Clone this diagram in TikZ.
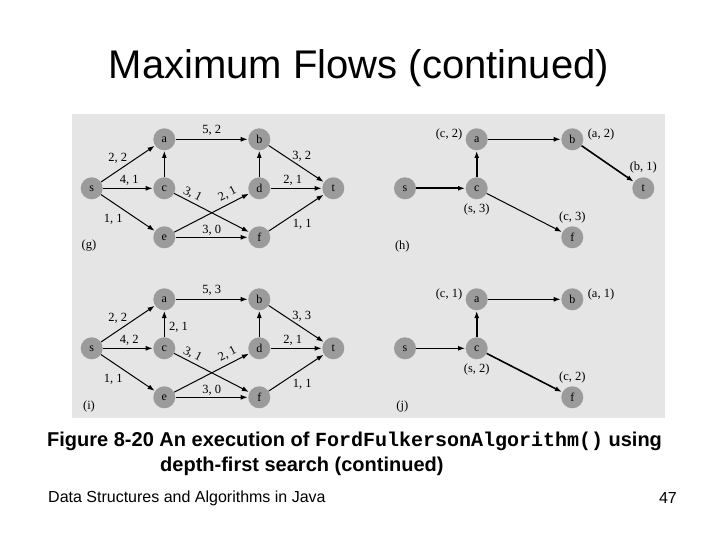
\documentclass[tikz,border=0pt]{standalone}
\usepackage{fontspec}
\setmainfont{Liberation Sans}
\newfontfamily\gfont{Liberation Serif}
\newfontfamily\cfont{Liberation Mono}
\usetikzlibrary{arrows.meta}
\definecolor{panelbg}{RGB}{229,229,229}
\definecolor{nodegray}{RGB}{155,155,155}
\tikzset{
  vtx/.style={circle,fill=nodegray,minimum size=22pt,inner sep=0pt,font=\gfont\fontsize{12}{12}\selectfont},
  flow/.style={-{Latex[length=7pt,width=5pt]},line width=1pt,shorten >=0.5pt},
  heavy/.style={flow,line width=1.6pt},
  lbl/.style={font=\gfont\fontsize{12.5}{13}\selectfont,inner sep=0pt},
}
\begin{document}
\begin{tikzpicture}[x=1pt,y=-1pt]
\useasboundingbox (0,0) rectangle (720,540);
\fill[white] (0,0) rectangle (720,540);
\fill[panelbg] (72,114) rectangle (665,418);

% Title
\node[font=\fontsize{40}{46}\selectfont] (title) at (359,68) {Maximum Flows (continued)};

% Panel g and i (full networks)
\foreach \dy/\tagname/\ab/\sa/\sc/\bt in {0/g/{5, 2}/{2, 2}/{4, 1}/{3, 2},160/i/{5, 3}/{2, 2}/{4, 2}/{3, 3}}{
\begin{scope}[shift={(0,\dy)}]
  \node[vtx] (s\tagname) at (91.7,188.3) {s};
  \node[vtx] (a\tagname) at (164.3,139.3) {a};
  \node[vtx] (b\tagname) at (259.3,139.3) {b};
  \node[vtx] (c\tagname) at (164.3,188.3) {c};
  \node[vtx] (d\tagname) at (259.3,188.3) {d};
  \node[vtx] (t\tagname) at (333.3,188.3) {t};
  \node[vtx] (e\tagname) at (164.3,237.3) {e};
  \node[vtx] (f\tagname) at (259.3,237.3) {f};
  \draw[flow] (s\tagname) -- (a\tagname);
  \draw[flow] (s\tagname) -- (c\tagname);
  \draw[flow] (s\tagname) -- (e\tagname);
  \draw[flow] (c\tagname) -- (a\tagname);
  \draw[flow] (a\tagname) -- (b\tagname);
  \draw[flow] (c\tagname) -- (f\tagname);
  \draw[flow] (e\tagname) -- (d\tagname);
  \draw[flow] (e\tagname) -- (f\tagname);
  \draw[flow] (d\tagname) -- (b\tagname);
  \draw[flow] (d\tagname) -- (t\tagname);
  \draw[flow] (b\tagname) -- (t\tagname);
  \draw[flow] (f\tagname) -- (t\tagname);
  \node[lbl] (lab\tagname) at (211.7,130.7) {\ab};
  \node[lbl] (lsa\tagname) at (117.7,158.3) {\sa};
  \node[lbl] (lsc\tagname) at (129.3,180) {\sc};
  \node[lbl] (lse\tagname) at (113.3,219.3) {1, 1};
  \node[lbl] (lbt\tagname) at (301.7,156.7) {\bt};
  \node[lbl] (ldt\tagname) at (292.7,180) {2, 1};
  \node[lbl] (lft\tagname) at (302.3,224) {1, 1};
  \node[lbl] (lef\tagname) at (211.7,230.7) {3, 0};
  \node[lbl,rotate=-27] (lcf\tagname) at (192.5,194.5) {3, 1};
  \node[lbl,rotate=27] (led\tagname) at (227.5,194.5) {2, 1};
  \node[lbl] (tag\tagname) at (89,246) {(\tagname)};
\end{scope}
}
\node[lbl] (lcai) at (178.5,327.7) {2, 1};

% Panel h
\node[vtx] (sh) at (405,188.3) {s};
\node[vtx] (ah) at (476.7,139.3) {a};
\node[vtx] (bh) at (572.3,139.3) {b};
\node[vtx] (ch) at (476.7,188.3) {c};
\node[vtx] (th) at (643.3,188.3) {t};
\node[vtx] (fh) at (572.3,237.3) {f};
\draw[heavy] (sh) -- (ch);
\draw[heavy] (ch) -- (ah);
\draw[flow] (ah) -- (bh);
\draw[heavy] (bh) -- (th);
\draw[flow] (ch) -- (fh);
\node[lbl] (lah) at (449,134.3) {(c, 2)};
\node[lbl] (lbh) at (601,134.3) {(a, 2)};
\node[lbl] (lth) at (643.3,167.3) {(b, 1)};
\node[lbl] (lch) at (476.7,209.3) {(s, 3)};
\node[lbl] (lfh) at (572.3,217.3) {(c, 3)};
\node[lbl] (tagh) at (402.3,246) {(h)};

% Panel j
\node[vtx] (sj) at (405,348.3) {s};
\node[vtx] (aj) at (476.7,299.3) {a};
\node[vtx] (bj) at (572.3,299.3) {b};
\node[vtx] (cj) at (476.7,348.3) {c};
\node[vtx] (fj) at (572.3,397.3) {f};
\draw[flow] (sj) -- (cj);
\draw[heavy] (cj) -- (aj);
\draw[flow] (aj) -- (bj);
\draw[heavy] (cj) -- (fj);
\node[lbl] (laj) at (449,294.3) {(c, 1)};
\node[lbl] (lbj) at (601,294.3) {(a, 1)};
\node[lbl] (lcj) at (476.7,369.3) {(s, 2)};
\node[lbl] (lfj) at (572.3,377.3) {(c, 2)};
\node[lbl] (tagj) at (402.3,406) {(j)};

% Caption
\node[anchor=west,inner sep=0pt,font=\bfseries\fontsize{20}{24}\selectfont] (cap1) at (47,441)
  {Figure 8-20 An execution of {\cfont\bfseries FordFulkersonAlgorithm()} using};
\node[anchor=west,inner sep=0pt,font=\bfseries\fontsize{20}{24}\selectfont] (cap2) at (160,466)
  {depth-first search (continued)};

% Footer
\node[anchor=west,inner sep=0pt,font=\fontsize{16}{19}\selectfont] (foot) at (48,498) {Data Structures and Algorithms in Java};
\node[anchor=east,inner sep=0pt,font=\fontsize{16}{19}\selectfont] (page) at (677,498) {47};
\end{tikzpicture}
\end{document}
